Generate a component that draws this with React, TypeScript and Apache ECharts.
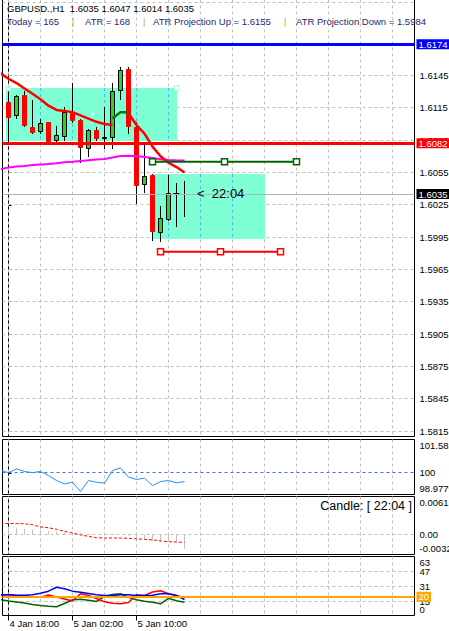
import { useEffect, useRef } from "react";
import * as echarts from "echarts";

const FONT = '"Liberation Sans", Arial, sans-serif';

// ---------------- data ----------------
const headerSymbol = "GBPUSD.,H1";
const headerOHLC = ["1.6035", "1.6047", "1.6014", "1.6035"];
const infoTexts = ["Today = 165", "ATR = 168", "ATR Projection Up = 1.6155", "ATR Projection Down = 1.5984"];
const timerText = "22:04";

const timeTickIndex = [0, 8, 16];
const timeLabels = ["4 Jan 18:00", "5 Jan 02:00", "5 Jan 10:00"];

// hourly candles, index 0 = 4 Jan 18:00
const opens = [1.6120, 1.6107, 1.6127, 1.6097, 1.6093, 1.6102, 1.6084, 1.6088, 1.6111, 1.6104, 1.6077, 1.6094, 1.6086, 1.6087, 1.6131, 1.6151, 1.6097, 1.6043, 1.6053, 1.5999, 1.6011, 1.6036, 1.6035];
const highs = [1.6132, 1.6127, 1.6131, 1.6122, 1.6105, 1.6102, 1.6098, 1.6116, 1.6138, 1.6105, 1.6095, 1.6097, 1.6116, 1.6138, 1.6153, 1.6153, 1.6102, 1.6082, 1.6054, 1.6024, 1.6053, 1.6045, 1.6047];
const lows = [1.6084, 1.6105, 1.6097, 1.6091, 1.6091, 1.6082, 1.6082, 1.6084, 1.6101, 1.6064, 1.6069, 1.6084, 1.6077, 1.6077, 1.6122, 1.6091, 1.6026, 1.6036, 1.5991, 1.5990, 1.6010, 1.6004, 1.6014];
const closes = [1.6106, 1.6126, 1.6098, 1.6092, 1.6101, 1.6083, 1.6090, 1.6111, 1.6103, 1.6078, 1.6094, 1.6086, 1.6088, 1.6131, 1.6150, 1.6097, 1.6042, 1.6052, 1.6000, 1.6013, 1.6036, 1.6035, 1.6035];

// moving averages (first value is the bar before index 0)
const maStart = -1;
const redMaA = [1.6147, 1.6142, 1.6138, 1.6133, 1.6128, 1.6123, 1.6117, 1.6113, 1.6112, 1.6111, 1.6108, 1.6105, 1.6102, 1.6100, 1.6099]; // -1..13
const greenMaStart = 13;
const greenMa = [1.6105, 1.6111, 1.6111]; // 13..15
const redMaBStart = 15;
const redMaB = [1.6110, 1.6099, 1.6091, 1.6079, 1.6070, 1.6064, 1.6060, 1.6055]; // 15..22
const magentaMa = [1.60582, 1.60596, 1.60606, 1.6061, 1.60619, 1.60624, 1.60629, 1.60635, 1.60645, 1.6065, 1.60657, 1.60663, 1.6067, 1.60675, 1.60689, 1.60703, 1.60706, 1.60703, 1.60694, 1.60684, 1.60672, 1.60666, 1.60663, 1.60661];

// levels / objects
const levelUp = 1.6174;
const levelMid = 1.6082;
const bidPrice = 1.6035;
const rectX1 = [-0.3, 18];
const rectX2 = [21, 32];
const rectTop = [1.6133, 1.6054];
const rectBottom = [1.6084, 1.5993];
const rectMarkerX = [0, 21];
const rectMarkerPrice = 1.6133;
const projUpX = [18, 27, 36];
const projUpPrice = 1.6065;
const projDownX = [19, 26.5, 34];
const projDownPrice = 1.59815;
const dotPoint = [10.5, 1.6109];

const priceTicks = [1.5815, 1.5845, 1.5875, 1.5905, 1.5935, 1.5965, 1.5995, 1.6025, 1.6055, 1.6085, 1.6115, 1.6145, 1.6175];
const gridX = [0, 4, 8, 12, 16, 20, 24, 28, 32, 36, 40, 44, 48];

// indicator 1 (around 100)
const ind1 = [100.13, 100.01, 100.19, 100.07, 100.01, 100.07, 99.88, 99.64, 99.48, 99.56, 99.12, 99.64, 99.56, 99.51, 100.11, 100.24, 99.80, 99.69, 99.75, 99.40, 99.59, 99.64, 99.53, 99.59];
const ind1Level = 100;
const ind1Min = 98.9779;
const ind1Max = 101.582;
const ind1Labels = ["98.9779", "100", "101.582"];

// indicator 2 (oscillator)
const ind2Signal = [0.00177, 0.00177, 0.00177, 0.00173, 0.00157, 0.00122, 0.00109, 0.00084, 0.00052, 0.00025, -0.00006, -0.00029, -0.0005, -0.00056, -0.00056, -0.00056, -0.00061, -0.00069, -0.00077, -0.00085, -0.00102, -0.00115, -0.00121, -0.00125];
const ind2Hist = [0.0010, 0.0010, 0.0009, 0.0008, 0.0007, 0.0006, 0.0005, 0.0004, 0.0003, 0.0002, 0.0001, 0.0000, -0.0001, -0.0001, 0.0000, -0.0002, -0.0006, -0.0008, -0.0010, -0.0011, -0.0010, -0.0011, -0.0023];
const ind2Min = -0.0032;
const ind2Max = 0.0061;
const ind2Labels = ["-0.0032", "0.00", "0.0061"];

// indicator 3 (ADX style)
const ind3Blue = [22.1, 22.1, 21.7, 21.7, 22.1, 23.8, 26.0, 30.2, 28.5, 26.0, 24.9, 23.5, 22.1, 21.4, 21.4, 22.1, 22.1, 21.4, 21.4, 21.7, 23.2, 23.2, 21.4, 17.1];
const ind3Red = [21.4, 22.4, 21.4, 20.8, 19.7, 19.5, 21.9, 19.7, 17.6, 15.5, 23.2, 21.4, 18.2, 14.6, 13.1, 12.5, 13.9, 22.1, 21.4, 25.1, 26.4, 23.2, 21.4, 18.9];
const ind3Green = [16.8, 15.5, 14.4, 13.3, 11.7, 10.7, 9.8, 9.3, 12.8, 16.8, 17.4, 16.3, 15.0, 20.3, 22.4, 23.2, 19.5, 16.8, 15.3, 14.2, 12.5, 18.4, 15.7, 14.2];
const ind3Level = 20;
const ind3Ticks = [0, 15, 31, 47, 63];

// ---------------- helpers ----------------
const X_MIN = -0.75;
const X_MAX = 50.75;
const MAIN_MIN = 1.5809903;
const MAIN_MAX = 1.6215547;
const GRID_C = "#C0C0C0";
const DASH = [3, 3];
const crisp = (v: number) => Math.floor(v) + 0.5;

function vGrid(k: number) {
  return {
    type: "custom", xAxisIndex: k, yAxisIndex: k, z: 1, silent: true,
    data: gridX.map((x) => [x, 0]),
    renderItem: (params: any, api: any) => {
      const cs = params.coordSys;
      const x = crisp(api.coord([api.value(0), 0])[0]);
      return { type: "line", shape: { x1: x, y1: cs.y, x2: x, y2: cs.y + cs.height }, style: { stroke: GRID_C, lineWidth: 1, lineDash: DASH } };
    },
  };
}

function hLines(k: number, values: number[], color: string, dash: number[] | null, z: number) {
  return {
    type: "custom", xAxisIndex: k, yAxisIndex: k, z, silent: true,
    data: values.map((v) => [0, v]),
    renderItem: (params: any, api: any) => {
      const cs = params.coordSys;
      const y = crisp(api.coord([0, api.value(1)])[1]);
      return { type: "line", shape: { x1: cs.x, y1: y, x2: cs.x + cs.width, y2: y }, style: { stroke: color, lineWidth: 1, lineDash: dash || undefined } };
    },
  };
}

function line(k: number, start: number, values: number[], color: string, width: number, z: number, dash?: any) {
  return {
    type: "line", xAxisIndex: k, yAxisIndex: k, z, silent: true, symbol: "none",
    data: values.map((v, j) => [start + j, v]),
    lineStyle: { color, width, type: dash || "solid" },
    itemStyle: { color },
    emphasis: { disabled: true },
  };
}

function levelLabel(text: string, bg: string, fg: string) {
  return {
    show: true, position: "end", distance: 2, formatter: text, color: fg, backgroundColor: bg,
    padding: [1, 2, 0, 2], fontSize: 9.5, fontFamily: FONT, lineHeight: 9,
  };
}

function buildOption(): any {
  const grids = [
    { top: -0.5, height: 437 },
    { top: 439.5, height: 55 },
    { top: 496.5, height: 58 },
    { top: 556.5, height: 59 },
  ].map((g) => ({ left: 2.5, width: 412, top: g.top, height: g.height, show: true, borderColor: "#000", borderWidth: 1, backgroundColor: "transparent", containLabel: false, outerBoundsMode: "none" }));

  const xAxis = [0, 1, 2, 3].map((k) => ({
    type: "value", gridIndex: k, min: X_MIN, max: X_MAX,
    axisLine: { show: false },
    axisTick: k === 3 ? { show: true, customValues: timeTickIndex, length: 5, lineStyle: { color: "#000" } } : { show: false },
    axisLabel: k === 3 ? {
      show: true, customValues: timeTickIndex, margin: 3, align: "left", padding: [0, 0, 0, 1],
      formatter: (v: number) => timeLabels[timeTickIndex.indexOf(Math.round(v))] || "",
      fontSize: 9.5, fontFamily: FONT, color: "#000",
    } : { show: false },
    splitLine: { show: false },
  }));

  const labelBase = { fontSize: 9.5, fontFamily: FONT, color: "#000", margin: 5 };
  const axisBase = (k: number, min: number, max: number) => ({
    type: "value", gridIndex: k, position: "right", min, max, splitLine: { show: false },
  });
  const panelAxes = (k: number, min: number, max: number, mids: number[], midLabels: string[], minLabel: string, maxLabel: string) => [
    {
      ...axisBase(k, min, max),
      axisLine: { show: true, lineStyle: { color: "#000", width: 1 } },
      axisTick: { show: true, customValues: [min, ...mids, max], length: 3, lineStyle: { color: "#000" } },
      axisLabel: { ...labelBase, customValues: mids, formatter: (v: number) => midLabels[mids.findIndex((m) => Math.abs(m - v) < 1e-9)] ?? "" },
    },
    {
      ...axisBase(k, min, max),
      axisLine: { show: false }, axisTick: { show: false },
      axisLabel: { ...labelBase, customValues: [max], verticalAlign: "top", padding: [1, 0, 0, 0], formatter: () => maxLabel },
    },
    {
      ...axisBase(k, min, max),
      axisLine: { show: false }, axisTick: { show: false },
      axisLabel: { ...labelBase, customValues: [min], verticalAlign: "bottom", padding: [0, 0, 1, 0], formatter: () => minLabel },
    },
  ];

  const yAxis = [
    {
      ...axisBase(0, MAIN_MIN, MAIN_MAX),
      axisLine: { show: true, lineStyle: { color: "#000", width: 1 } },
      axisTick: { show: true, customValues: priceTicks, length: 3, lineStyle: { color: "#000" } },
      axisLabel: { ...labelBase, customValues: priceTicks, formatter: (v: number) => v.toFixed(4) },
    },
    ...panelAxes(1, ind1Min, ind1Max, [ind1Level], [ind1Labels[1]], ind1Labels[0], ind1Labels[2]),
    ...panelAxes(2, ind2Min, ind2Max, [0], [ind2Labels[1]], ind2Labels[0], ind2Labels[2]),
    ...panelAxes(3, ind3Ticks[0], ind3Ticks[ind3Ticks.length - 1], ind3Ticks.slice(1, -1), ind3Ticks.slice(1, -1).map(String), String(ind3Ticks[0]), String(ind3Ticks[ind3Ticks.length - 1])),
  ];
  // y axis indices: 0 main, 1 panel1, 4 panel2, 7 panel3
  const Y1 = 1, Y2 = 4, Y3 = 7;

  const series: any[] = [];
  // main grid lines
  series.push(vGrid(0));
  series.push(hLines(0, priceTicks, GRID_C, DASH, 1));
  // dashed line along the top edge of the main window
  series.push({
    type: "custom", xAxisIndex: 0, yAxisIndex: 0, z: 1, silent: true, data: [[0, MAIN_MAX]],
    renderItem: (params: any) => {
      const cs = params.coordSys;
      const y = crisp(cs.y + 3);
      return { type: "line", shape: { x1: cs.x, y1: y, x2: cs.x + cs.width, y2: y }, style: { stroke: GRID_C, lineWidth: 1, lineDash: DASH } };
    },
  });
  // bid line with label
  series.push({
    type: "line", xAxisIndex: 0, yAxisIndex: 0, z: 1, silent: true, symbol: "none", data: [[0, bidPrice]],
    markLine: {
      silent: true, symbol: ["none", "none"], animation: false, precision: 6,
      data: [{ yAxis: bidPrice, lineStyle: { color: "#B4B4B4", width: 1, type: "solid" }, label: levelLabel(bidPrice.toFixed(4), "#000", "#fff") }],
    },
  });
  // rectangles
  series.push({
    type: "custom", xAxisIndex: 0, yAxisIndex: 0, z: 2, silent: true,
    data: rectX1.map((x1, j) => [x1, rectX2[j], rectTop[j], rectBottom[j]]),
    renderItem: (params: any, api: any) => {
      const a = api.coord([api.value(0), api.value(2)]);
      const b = api.coord([api.value(1), api.value(3)]);
      const x1 = Math.round(a[0]), x2 = Math.round(b[0]);
      const y1 = Math.round(a[1]), y2 = Math.round(b[1]);
      const children: any[] = [{ type: "rect", shape: { x: x1, y: y1, width: x2 - x1, height: y2 - y1 }, style: { fill: "#7FFFD4" } }];
      gridX.forEach((g) => {
        const gx = crisp(api.coord([g, 0])[0]);
        if (gx > x1 + 1 && gx < x2 - 1) {
          children.push({ type: "line", shape: { x1: gx, y1: y1, x2: gx, y2: y2 }, style: { stroke: "#5AB4FF", lineWidth: 1, lineDash: DASH } });
        }
      });
      return { type: "group", children };
    },
  });
  // rectangle corner markers
  series.push({
    type: "scatter", xAxisIndex: 0, yAxisIndex: 0, z: 3, silent: true, symbol: "rect", symbolSize: 5,
    data: rectMarkerX.map((x) => [x, rectMarkerPrice]),
    itemStyle: { color: "#fff", borderColor: "#7FFFD4", borderWidth: 1 },
  });
  // candles
  series.push({
    type: "custom", xAxisIndex: 0, yAxisIndex: 0, z: 3, silent: true,
    data: opens.map((o, i) => [i, o, highs[i], lows[i], closes[i]]),
    renderItem: (params: any, api: any) => {
      const i = api.value(0);
      const o = api.value(1), h = api.value(2), l = api.value(3), c = api.value(4);
      const pO = api.coord([i, o]), pC = api.coord([i, c]), pH = api.coord([i, h]), pL = api.coord([i, l]);
      const x = crisp(pO[0]);
      const top = Math.round(Math.min(pO[1], pC[1])), bot = Math.round(Math.max(pO[1], pC[1]));
      const bull = c >= o;
      const children: any[] = [{ type: "line", shape: { x1: x, y1: Math.round(pH[1]), x2: x, y2: Math.round(pL[1]) }, style: { stroke: "#000", lineWidth: 1 } }];
      if (bot - top < 2) {
        children.push({ type: "line", shape: { x1: x - 3, y1: top + 0.5, x2: x + 3, y2: top + 0.5 }, style: { stroke: "#000", lineWidth: 1 } });
      } else {
        children.push({ type: "rect", shape: { x: x - 2, y: top + 0.5, width: 4, height: bot - top - 1 }, style: { fill: bull ? "#32CD32" : "#FF0000", stroke: bull ? "#000" : "#FF0000", lineWidth: 1 } });
      }
      return { type: "group", children };
    },
  });
  // small white dot
  series.push({ type: "scatter", xAxisIndex: 0, yAxisIndex: 0, z: 3, silent: true, symbol: "rect", symbolSize: 3, data: [dotPoint], itemStyle: { color: "#fff" } });
  // moving averages
  series.push(line(0, maStart, magentaMa, "#FF00FF", 2, 4));
  series.push(line(0, maStart, redMaA, "#FF0000", 2.5, 4));
  series.push(line(0, greenMaStart, greenMa, "#008000", 2.5, 4));
  series.push(line(0, redMaBStart, redMaB, "#FF0000", 2.5, 4));
  // projection lines
  series.push({
    ...line(0, 0, [], "#006400", 2, 5),
    data: projUpX.map((x) => [x, projUpPrice]), symbol: "rect", symbolSize: 6, showSymbol: true,
    itemStyle: { color: "#fff", borderColor: "#006400", borderWidth: 1.5 },
  });
  series.push({
    ...line(0, 0, [], "#FF0000", 2, 5),
    data: projDownX.map((x) => [x, projDownPrice]), symbol: "rect", symbolSize: 6, showSymbol: true,
    itemStyle: { color: "#fff", borderColor: "#FF0000", borderWidth: 1.5 },
  });
  // horizontal levels
  series.push({
    type: "line", xAxisIndex: 0, yAxisIndex: 0, z: 6, silent: true, symbol: "none", data: [[0, levelUp]],
    markLine: {
      silent: true, symbol: ["none", "none"], animation: false, precision: 6,
      data: [
        { yAxis: levelUp, lineStyle: { color: "#0000FF", width: 3, type: "solid" }, label: levelLabel(levelUp.toFixed(4), "#0000FF", "#fff") },
        { yAxis: levelMid, lineStyle: { color: "#FF0000", width: 3, type: "solid" }, label: levelLabel(levelMid.toFixed(4), "#FF0000", "#fff") },
      ],
    },
  });

  // panel 1
  series.push({ ...vGrid(1), yAxisIndex: Y1 });
  series.push({ ...hLines(1, [ind1Level], "#3C6EF0", DASH, 2), yAxisIndex: Y1 });
  series.push({ ...line(1, maStart, ind1, "#1E90FF", 1, 3), yAxisIndex: Y1 });

  // panel 2
  series.push({ ...vGrid(2), yAxisIndex: Y2 });
  series.push({ ...hLines(2, [0], GRID_C, DASH, 2), yAxisIndex: Y2 });
  series.push({
    type: "custom", xAxisIndex: 2, yAxisIndex: Y2, z: 3, silent: true,
    data: ind2Hist.map((v, i) => [i, v]),
    renderItem: (params: any, api: any) => {
      const a = api.coord([api.value(0), 0]);
      const b = api.coord([api.value(0), api.value(1)]);
      const x = crisp(a[0]);
      return { type: "line", shape: { x1: x, y1: a[1], x2: x, y2: b[1] }, style: { stroke: "#C0C0C0", lineWidth: 1 } };
    },
  });
  series.push({ ...line(2, maStart, ind2Signal, "#FF0000", 1, 4, [3, 2]), yAxisIndex: Y2 });

  // panel 3
  series.push({ ...vGrid(3), yAxisIndex: Y3 });
  series.push({ ...hLines(3, ind3Ticks.slice(1, -1), GRID_C, DASH, 2), yAxisIndex: Y3 });
  series.push({
    type: "line", xAxisIndex: 3, yAxisIndex: Y3, z: 3, silent: true, symbol: "none", data: [[0, ind3Level]],
    markLine: {
      silent: true, symbol: ["none", "none"], animation: false, precision: 6,
      data: [{ yAxis: ind3Level, lineStyle: { color: "#FFA500", width: 2, type: "solid" }, label: levelLabel(String(ind3Level), "#FFA500", "#fff") }],
    },
  });
  series.push({ ...line(3, maStart, ind3Green, "#006400", 1.5, 4), yAxisIndex: Y3 });
  series.push({ ...line(3, maStart, ind3Red, "#FF0000", 1.5, 4), yAxisIndex: Y3 });
  series.push({ ...line(3, maStart, ind3Blue, "#0000FF", 1.5, 4), yAxisIndex: Y3 });

  const txt = (x: number, y: number, text: string, fill: string, size = 9.5, align = "left") => ({
    type: "text", x, y, z: 100, silent: true,
    style: { text, fill, fontSize: size, fontFamily: FONT, align, verticalAlign: "middle" },
  });
  const infoColor = "#28286E";
  const sepColor = "#DAA520";

  const graphic = [
    txt(7, 8, `${headerSymbol}  ${headerOHLC.join(" ")}`, "#000"),
    txt(7, 21, infoTexts[0], infoColor),
    txt(72, 21, "|", sepColor),
    txt(85, 21, infoTexts[1], infoColor),
    txt(143, 21, "|", sepColor),
    txt(153, 21, infoTexts[2], infoColor),
    txt(284, 21, "|", sepColor),
    txt(296, 21, infoTexts[3], infoColor),
    txt(197, 193, `<  ${timerText}`, "#000", 13),
    txt(412, 506, `Candle: [ ${timerText} ]`, "#000", 12.5, "right"),
  ];

  return {
    animation: false,
    backgroundColor: "#fff",
    textStyle: { fontFamily: FONT },
    grid: grids,
    xAxis,
    yAxis,
    series,
    graphic,
  };
}

export default function App() {
  const ref = useRef<HTMLDivElement>(null);
  useEffect(() => {
    document.body.style.margin = "0";
    const chart = echarts.init(ref.current as HTMLDivElement, null, { renderer: "svg" });
    chart.setOption(buildOption());
    return () => chart.dispose();
  }, []);
  return <div ref={ref} style={{ width: 449, height: 631 }} />;
}
